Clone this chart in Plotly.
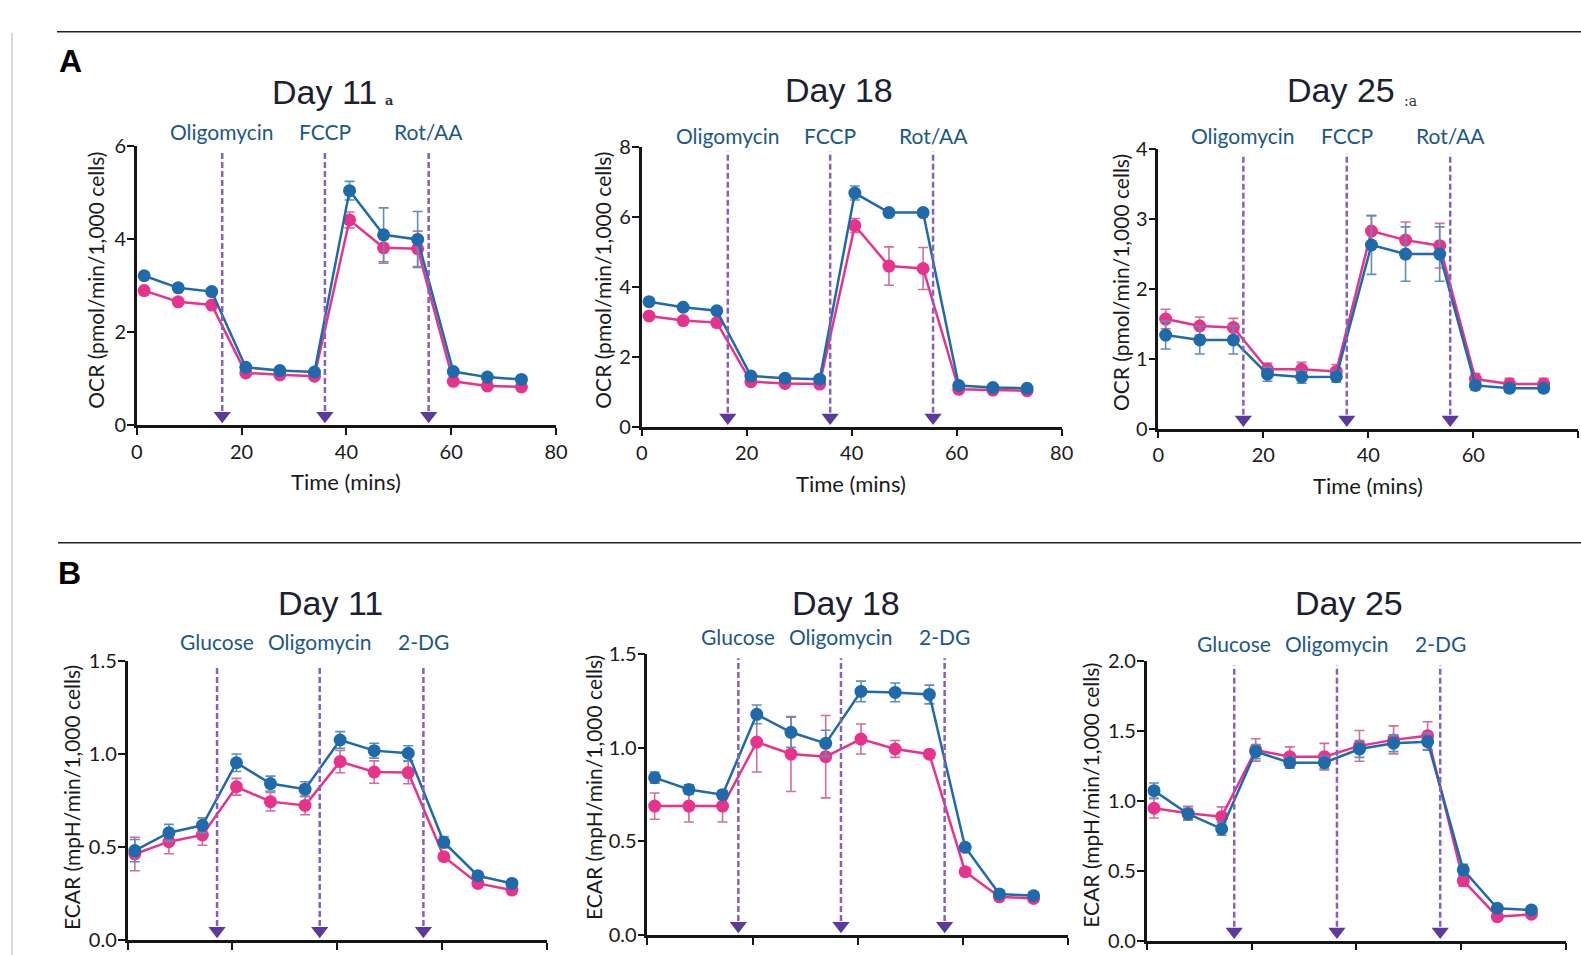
import plotly.graph_objects as go

W, H = 1581, 955

# ---------------- data ----------------
TIME = [1.4, 7.9, 14.3, 20.8, 27.3, 33.9, 40.6, 47.1, 53.6, 60.4, 66.9, 73.4]

ocr_d11_blue = [3.21, 2.95, 2.87, 1.24, 1.17, 1.14, 5.04, 4.09, 3.99, 1.15, 1.03, 0.98]
ocr_d11_pink = [2.89, 2.65, 2.58, 1.12, 1.08, 1.05, 4.41, 3.81, 3.79, 0.94, 0.84, 0.82]
ocr_d11_blue_err = [0.05, 0.04, 0.04, 0.04, 0.03, 0.03, 0.20, 0.58, 0.60, 0.03, 0.03, 0.03]
ocr_d11_pink_err = [0.05, 0.04, 0.04, 0.03, 0.03, 0.03, 0.17, 0.33, 0.38, 0.03, 0.03, 0.03]

ocr_d18_blue = [3.58, 3.42, 3.32, 1.45, 1.39, 1.36, 6.69, 6.13, 6.13, 1.18, 1.12, 1.10]
ocr_d18_pink = [3.17, 3.04, 2.98, 1.29, 1.24, 1.22, 5.76, 4.60, 4.53, 1.07, 1.05, 1.03]
ocr_d18_blue_err = [0.05, 0.05, 0.05, 0.04, 0.04, 0.04, 0.20, 0.06, 0.06, 0.03, 0.03, 0.03]
ocr_d18_pink_err = [0.05, 0.05, 0.05, 0.04, 0.04, 0.04, 0.20, 0.55, 0.60, 0.03, 0.03, 0.03]

ocr_d25_blue = [1.34, 1.27, 1.27, 0.78, 0.74, 0.745, 2.63, 2.50, 2.50, 0.62, 0.58, 0.58]
ocr_d25_pink = [1.57, 1.47, 1.45, 0.85, 0.85, 0.82, 2.83, 2.70, 2.62, 0.71, 0.64, 0.64]
ocr_d25_blue_err = [0.20, 0.20, 0.20, 0.10, 0.09, 0.08, 0.42, 0.39, 0.39, 0.07, 0.06, 0.06]
ocr_d25_pink_err = [0.14, 0.13, 0.13, 0.09, 0.10, 0.10, 0.22, 0.26, 0.32, 0.08, 0.08, 0.08]

ecar_d11_blue = [0.48, 0.576, 0.616, 0.952, 0.84, 0.81, 1.074, 1.017, 1.003, 0.525, 0.345, 0.304]
ecar_d11_pink = [0.462, 0.528, 0.564, 0.823, 0.743, 0.723, 0.958, 0.902, 0.899, 0.447, 0.304, 0.268]
ecar_d11_blue_err = [0.06, 0.045, 0.04, 0.047, 0.04, 0.04, 0.045, 0.04, 0.04, 0.03, 0.02, 0.02]
ecar_d11_pink_err = [0.09, 0.065, 0.055, 0.045, 0.05, 0.05, 0.06, 0.06, 0.06, 0.02, 0.02, 0.02]

ecar_d18_blue = [0.84, 0.777, 0.749, 1.178, 1.082, 1.023, 1.30, 1.295, 1.284, 0.468, 0.219, 0.21]
ecar_d18_pink = [0.688, 0.688, 0.688, 1.03, 0.966, 0.952, 1.046, 0.993, 0.965, 0.338, 0.204, 0.195]
ecar_d18_blue_err = [0.03, 0.025, 0.02, 0.05, 0.08, 0.07, 0.055, 0.05, 0.05, 0.02, 0.02, 0.02]
ecar_d18_pink_err = [0.07, 0.085, 0.085, 0.16, 0.20, 0.22, 0.08, 0.045, 0.02, 0.02, 0.02, 0.02]

ecar_d25_blue = [1.073, 0.906, 0.799, 1.352, 1.273, 1.273, 1.371, 1.412, 1.423, 0.506, 0.232, 0.22]
ecar_d25_pink = [0.947, 0.911, 0.887, 1.364, 1.316, 1.316, 1.393, 1.436, 1.466, 0.429, 0.172, 0.189]
ecar_d25_blue_err = [0.055, 0.04, 0.045, 0.05, 0.04, 0.045, 0.06, 0.06, 0.06, 0.04, 0.02, 0.02]
ecar_d25_pink_err = [0.07, 0.05, 0.07, 0.08, 0.07, 0.095, 0.11, 0.10, 0.10, 0.04, 0.02, 0.02]

inj_a11 = [16.3, 35.9, 55.7]
inj_a18 = [16.4, 35.9, 55.5]
inj_a25 = [16.2, 35.9, 55.6]
inj_b11 = [17.1, 36.7, 56.5]
inj_b18 = [17.3, 36.8, 56.5]
inj_b25 = [16.7, 36.3, 56.0]

ocr_labels = ["Oligomycin", "FCCP", "Rot/AA"]
ecar_labels = ["Glucose", "Oligomycin", "2-DG"]
titles = ["Day 11", "Day 18", "Day 25"]
x_ticks = [0, 20, 40, 60, 80]

# ---------------- styles ----------------
BLUE = "#1f6aaa"
PINK = "#e8338c"
BLUE_ERR = "#5f8fb5"
PINK_ERR = "#cf6f9b"
DASH = "#8560c0"
ARROW = "#5b3a9c"
LABEL = "#1c5885"
TITLE = "#1c2130"
AXIS = "#161616"
FONT = "Lato"


def xd(a, b):
    return [a / W, b / W]


def yd(top, bottom):
    return [1 - bottom / H, 1 - top / H]


panels = [
    dict(xs=(136.8, 556), ys=(146, 425), yr=6, dt=2, fmt="d", label_dy=1.051, xlab=True,
         blue=ocr_d11_blue, pink=ocr_d11_pink, be=ocr_d11_blue_err, pe=ocr_d11_pink_err,
         inj=inj_a11, labels=ocr_labels, title=titles[0], tpos=(324, 91.5),
         ytitle="OCR (pmol/min/1,000 cells)", ytpos=(96, 280.7), xtpos=(346, 481.7)),
    dict(xs=(641.7, 1061.7), ys=(147.3, 426.7), yr=8, dt=2, fmt="d", label_dy=1.044, xlab=True,
         blue=ocr_d18_blue, pink=ocr_d18_pink, be=ocr_d18_blue_err, pe=ocr_d18_pink_err,
         inj=inj_a18, labels=ocr_labels, title=titles[1], tpos=(839, 90),
         ytitle="OCR (pmol/min/1,000 cells)", ytpos=(603, 280.7), xtpos=(851, 483)),
    dict(xs=(1158.3, 1578.3), ys=(149.3, 428.7), yr=4, dt=1, fmt="d", label_dy=1.051, xlab=True,
         blue=ocr_d25_blue, pink=ocr_d25_pink, be=ocr_d25_blue_err, pe=ocr_d25_pink_err,
         inj=inj_a25, labels=ocr_labels, title=titles[2], tpos=(1341, 90),
         ytitle="OCR (pmol/min/1,000 cells)", ytpos=(1120, 283), xtpos=(1368, 485)),
    dict(xs=(127.5, 546.5), ys=(660.7, 940), yr=1.5, dt=0.5, fmt=".1f", label_dy=1.068, xlab=False,
         blue=ecar_d11_blue, pink=ecar_d11_pink, be=ecar_d11_blue_err, pe=ecar_d11_pink_err,
         inj=inj_b11, labels=ecar_labels, title=titles[0], tpos=(330, 603),
         ytitle="ECAR (mpH/min/1,000 cells)", ytpos=(71, 798), xtpos=None),
    dict(xs=(647.3, 1068.3), ys=(654, 935), yr=1.5, dt=0.5, fmt=".1f", label_dy=1.062, xlab=True,
         blue=ecar_d18_blue, pink=ecar_d18_pink, be=ecar_d18_blue_err, pe=ecar_d18_pink_err,
         inj=inj_b18, labels=ecar_labels, title=titles[1], tpos=(846, 603),
         ytitle="ECAR (mpH/min/1,000 cells)", ytpos=(593, 788), xtpos=None),
    dict(xs=(1146.7, 1566), ys=(661, 940.7), yr=2.0, dt=0.5, fmt=".1f", label_dy=1.061, xlab=False,
         blue=ecar_d25_blue, pink=ecar_d25_pink, be=ecar_d25_blue_err, pe=ecar_d25_pink_err,
         inj=inj_b25, labels=ecar_labels, title=titles[2], tpos=(1349, 603),
         ytitle="ECAR (mpH/min/1,000 cells)", ytpos=(1091, 795.7), xtpos=None),
]

fig = go.Figure()
shapes = []
annotations = []
layout_axes = {}

for i, p in enumerate(panels, start=1):
    sfx = "" if i == 1 else str(i)
    xa, ya = "x" + sfx, "y" + sfx
    fig.add_trace(go.Scatter(
        x=p["inj"], y=[p["yr"] * 0.033] * len(p["inj"]), xaxis=xa, yaxis=ya,
        mode="markers", marker=dict(symbol="triangle-down", size=15, color=ARROW,
                                    line=dict(width=0)),
        hoverinfo="skip", showlegend=False, cliponaxis=False))
    for s, c, ec, err in ((p["pink"], PINK, PINK_ERR, p["pe"]), (p["blue"], BLUE, BLUE_ERR, p["be"])):
        fig.add_trace(go.Scatter(
            x=TIME, y=s, xaxis=xa, yaxis=ya, mode="lines+markers",
            line=dict(color=c, width=2.5), marker=dict(color=c, size=13),
            error_y=dict(type="data", array=err, color=ec, thickness=1.6, width=5),
            showlegend=False, cliponaxis=False))
    for t, lab in zip(p["inj"], p["labels"]):
        shapes.append(dict(type="line", xref=xa, yref=ya + " domain", x0=t, x1=t,
                           y0=0.05, y1=0.985, line=dict(color=DASH, width=2.5, dash="6px,3px")))
        annotations.append(dict(x=t, y=p["label_dy"], xref=xa, yref=ya + " domain",
                                text=lab, showarrow=False, xanchor="center", yanchor="middle",
                                font=dict(family=FONT, size=21, color=LABEL)))
    annotations.append(dict(x=p["tpos"][0] / W, y=1 - p["tpos"][1] / H, xref="paper", yref="paper",
                            text=p["title"], showarrow=False, xanchor="center", yanchor="middle",
                            font=dict(family="Liberation Sans, Arial", size=34, color=TITLE)))
    annotations.append(dict(x=p["ytpos"][0] / W, y=1 - p["ytpos"][1] / H, xref="paper", yref="paper",
                            text=p["ytitle"], textangle=-90, showarrow=False,
                            xanchor="center", yanchor="middle",
                            font=dict(family=FONT, size=21, color="#1a1a1a")))
    if p["xtpos"]:
        annotations.append(dict(x=p["xtpos"][0] / W, y=1 - p["xtpos"][1] / H, xref="paper",
                                yref="paper", text="Time (mins)", showarrow=False,
                                xanchor="center", yanchor="middle",
                                font=dict(family=FONT, size=22, color="#1a1a1a")))
    axis_common = dict(showline=True, linecolor=AXIS, linewidth=2.5, ticks="outside",
                       ticklen=7, tickwidth=2, tickcolor=AXIS, showgrid=False, zeroline=False,
                       tickfont=dict(family=FONT, size=20, color="#1a1a1a"), automargin=False)
    layout_axes["xaxis" + sfx] = dict(domain=xd(*p["xs"]), range=[0, 80], tickvals=x_ticks,
                                      showticklabels=p["xlab"], anchor=ya, **axis_common)
    layout_axes["yaxis" + sfx] = dict(domain=yd(*p["ys"]), range=[0, p["yr"]], dtick=p["dt"],
                                      tick0=0, tickformat=p["fmt"], anchor=xa,
                                      ticklabelstandoff=-3, **axis_common)

annotations += [
    dict(x=70 / W, y=1 - 61 / H, xref="paper", yref="paper", text="<b>A</b>", showarrow=False,
         xanchor="center", yanchor="middle",
         font=dict(family="Liberation Sans, Arial", size=32, color="#000")),
    dict(x=69.5 / W, y=1 - 572.5 / H, xref="paper", yref="paper", text="<b>B</b>", showarrow=False,
         xanchor="center", yanchor="middle",
         font=dict(family="Liberation Sans, Arial", size=32, color="#000")),
    dict(x=389 / W, y=1 - 100 / H, xref="paper", yref="paper", text="<b>a</b>", showarrow=False,
         xanchor="center", yanchor="middle",
         font=dict(family="DejaVu Serif", size=13, color="#333")),
    dict(x=1410 / W, y=1 - 101 / H, xref="paper", yref="paper", text=":a", showarrow=False,
         xanchor="center", yanchor="middle",
         font=dict(family="DejaVu Serif", size=14, color="#333")),
]
shapes += [
    dict(type="line", xref="paper", yref="paper", x0=57 / W, x1=1, y0=1 - 31.7 / H, y1=1 - 31.7 / H,
         line=dict(color="#222", width=1.5)),
    dict(type="line", xref="paper", yref="paper", x0=58 / W, x1=1, y0=1 - 542.7 / H,
         y1=1 - 542.7 / H, line=dict(color="#222", width=1.5)),
    dict(type="line", xref="paper", yref="paper", x0=12 / W, x1=12 / W, y0=0, y1=1 - 33 / H,
         line=dict(color="#d9d9d9", width=2)),
]

fig.update_layout(
    width=W, height=H, margin=dict(l=0, r=0, t=0, b=0),
    paper_bgcolor="white", plot_bgcolor="white", template="none",
    showlegend=False, shapes=shapes, annotations=annotations, **layout_axes)

fig.write_html("out.html", config={"displayModeBar": False},
               post_script="document.body.style.margin='0';")
